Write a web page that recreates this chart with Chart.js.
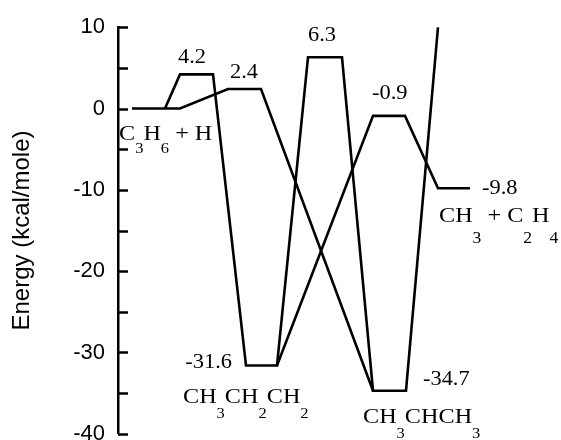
<!DOCTYPE html>
<html>
<head>
<meta charset="utf-8">
<script src="https://cdn.jsdelivr.net/npm/chart.js@4"></script>
<style>
  html, body { margin: 0; padding: 0; background: #fff; overflow: hidden; }
</style>
</head>
<body>
<canvas id="energyChart" width="561" height="460"></canvas>
<script>
// reaction coordinate (arbitrary units) and energy (kcal/mole) of each drawn path
const pathOneX = [1.4, 6.2, 11.0, 14.3, 25.5];
const pathOneE = [0, 0, 2.4, 2.4, -34.7];
const pathTwoX = [4.7, 6.2, 9.5, 12.8, 15.9, 19.0, 22.4, 25.5, 28.8, 32.0];
const pathTwoE = [0, 4.2, 4.2, -31.6, -31.6, 6.3, 6.3, -34.7, -34.7, 10];
const pathThreeX = [15.9, 25.5, 28.7, 32.0, 35.2];
const pathThreeE = [-31.6, -0.9, -0.9, -9.8, -9.8];

// stable species and barriers (left end of each level)
const speciesNames = ['C3H6 + H', 'CH3CH2CH2', 'CH3CHCH3', 'CH3 + C2H4'];
const speciesEnergy = [0, -31.6, -34.7, -9.8];
const speciesX = [1.4, 12.8, 25.5, 32.0];
const barrierEnergy = [4.2, 2.4, 6.3, -0.9];
const barrierX = [6.2, 11.0, 19.0, 25.5];

const yTicksMin = -40;
const yTicksMax = 10;

const serif = '"Liberation Serif", "Times New Roman", serif';
const sans = '"Liberation Sans", Arial, sans-serif';

function toPoints(xs, es) {
    return xs.map((x, i) => ({ x: x, y: es[i] }));
}

function drawStretched(ctx, str, px, py, align, size, sx) {
    ctx.save();
    ctx.font = size + 'px ' + serif;
    ctx.translate(px, py);
    ctx.scale(sx, 1);
    ctx.textAlign = align;
    ctx.fillText(str, 0, 0);
    ctx.restore();
}

// digits in a formula are drawn as subscripts
function drawFormula(ctx, str, px, py, size, subSize, drop, sx) {
    let cursor = px;
    const parts = str.match(/\d+|[^\d]+/g);
    ctx.save();
    ctx.textAlign = 'left';
    parts.forEach(part => {
        const isSub = /^\d+$/.test(part);
        ctx.font = (isSub ? subSize : size) + 'px ' + serif;
        const w = ctx.measureText(part).width * sx;
        ctx.save();
        ctx.translate(cursor, py + (isSub ? drop : 0));
        ctx.scale(sx, 1);
        ctx.fillText(part, 0, 0);
        ctx.restore();
        cursor += w;
    });
    ctx.restore();
}

const innerTicks = {
    id: 'innerTicks',
    afterDraw(chart) {
        const s = chart.scales.y;
        const ctx = chart.ctx;
        ctx.save();
        ctx.strokeStyle = '#000';
        ctx.lineWidth = 2.5;
        s.ticks.forEach(t => {
            const py = Math.round(s.getPixelForValue(t.value)) + 0.5;
            ctx.beginPath();
            ctx.moveTo(s.right, py);
            ctx.lineTo(s.right + 10, py);
            ctx.stroke();
        });
        ctx.restore();
    }
};

// label offsets in pixels from the left end of each level
const barrierOffsets = [[-2, -11], [2, -11], [0, -16], [-1, -17]];
const speciesValueOffsets = [null, [-14, 3, 'right'], [50, -6, 'left'], [44, 6, 'left']];
const speciesNameOffsets = [[-13, 31, 13], [-63, 38, 15], [-10, 32, 15], [1, 34, 21]];

const levelLabels = {
    id: 'levelLabels',
    afterDraw(chart) {
        const { ctx, scales: { x, y } } = chart;
        ctx.save();
        ctx.fillStyle = '#000';
        ctx.textBaseline = 'alphabetic';

        barrierEnergy.forEach((e, i) => {
            const px = x.getPixelForValue(barrierX[i]) + barrierOffsets[i][0];
            const py = y.getPixelForValue(e) + barrierOffsets[i][1];
            drawStretched(ctx, e.toFixed(1), px, py, 'left', 20, 1.12);
        });

        speciesEnergy.forEach((e, i) => {
            const off = speciesValueOffsets[i];
            if (!off) return;
            const px = x.getPixelForValue(speciesX[i]) + off[0];
            const py = y.getPixelForValue(e) + off[1];
            drawStretched(ctx, e.toFixed(1), px, py, off[2], 20, 1.12);
        });

        speciesNames.forEach((name, i) => {
            const off = speciesNameOffsets[i];
            const px = x.getPixelForValue(speciesX[i]) + off[0];
            const py = y.getPixelForValue(speciesEnergy[i]) + off[1];
            const subSize = i === 3 ? 16 : 15;
            drawFormula(ctx, name, px, py, 22, subSize, off[2], 1.1);
        });
        ctx.restore();
    }
};

const lineStyle = {
    borderColor: '#000',
    borderWidth: 2.6,
    pointRadius: 0,
    tension: 0,
    fill: false,
    borderJoinStyle: 'miter'
};

const ctx = document.getElementById('energyChart').getContext('2d');

new Chart(ctx, {
    type: 'line',
    data: {
        datasets: [
            { data: toPoints(pathOneX, pathOneE), ...lineStyle },
            { data: toPoints(pathTwoX, pathTwoE), ...lineStyle },
            { data: toPoints(pathThreeX, pathThreeE), ...lineStyle }
        ]
    },
    options: {
        responsive: false,
        animation: false,
        layout: { padding: { left: 0, right: 0, top: 27.2, bottom: 21.8 } },
        plugins: {
            legend: { display: false },
            tooltip: { enabled: false }
        },
        scales: {
            x: { type: 'linear', min: 0, max: 44.3, display: false },
            y: {
                min: yTicksMin,
                max: yTicksMax,
                ticks: {
                    stepSize: 5,
                    padding: 13,
                    color: '#000',
                    font: { family: sans, size: 22 },
                    callback: v => (v % 10 === 0 ? String(v) : '')
                },
                grid: { display: false, drawTicks: false },
                border: { display: true, color: '#000', width: 2.5 },
                title: {
                    display: true,
                    text: 'Energy (kcal/mole)',
                    color: '#000',
                    font: { family: sans, size: 24 },
                    padding: { top: 8, bottom: 0 }
                },
                afterFit: s => { s.width = 118; }
            }
        }
    },
    plugins: [innerTicks, levelLabels]
});
</script>
</body>
</html>
